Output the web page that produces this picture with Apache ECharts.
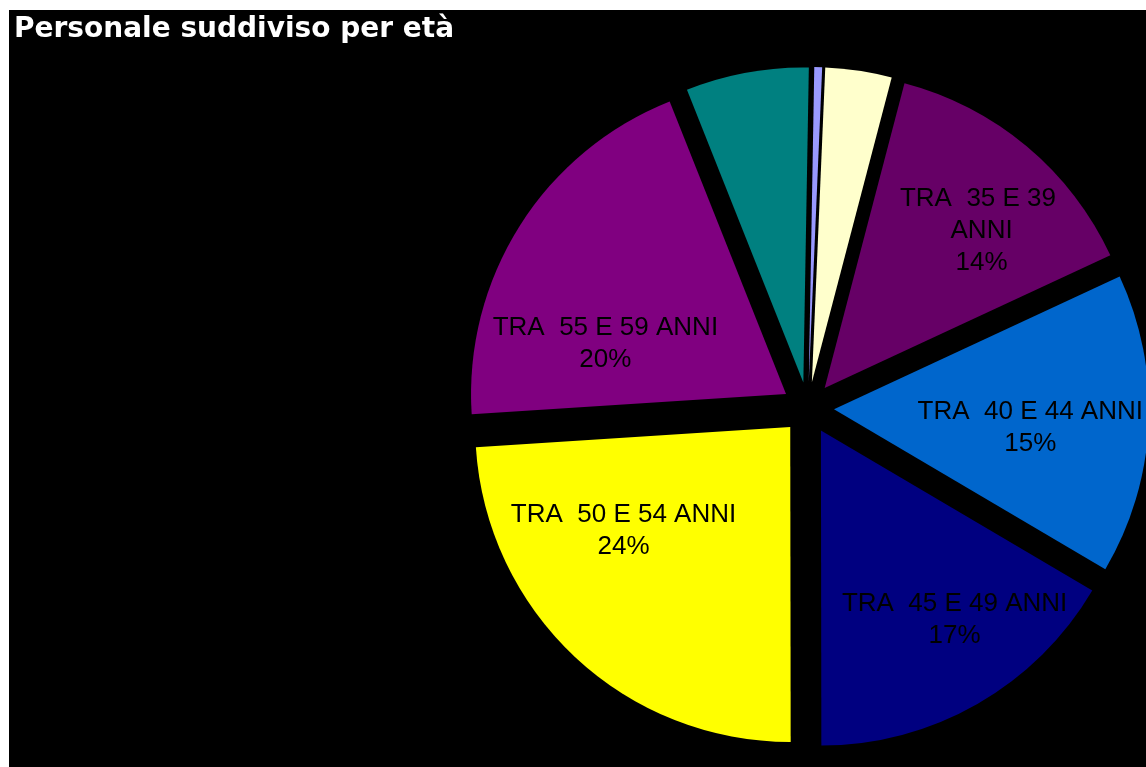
<!DOCTYPE html>
<html>
<head>
<meta charset="utf-8">
<script src="https://cdn.jsdelivr.net/npm/echarts@6/dist/echarts.min.js"></script>
<style>
html,body{margin:0;padding:0;background:#ffffff;width:1146px;height:767px;overflow:hidden;}
#chart{position:absolute;left:9px;top:10px;width:1137px;height:757px;background:#000;}
</style>
</head>
<body>
<div id="chart"></div>
<script>
// ---- data ----
var categories = [
  "FINO A 29 ANNI",
  "TRA  30 E 34 ANNI",
  "TRA  35 E 39 ANNI",
  "TRA  40 E 44 ANNI",
  "TRA  45 E 49 ANNI",
  "TRA  50 E 54 ANNI",
  "TRA  55 E 59 ANNI",
  "60 ANNI E OLTRE"
];
var shares = [0.4, 3.4, 14.0, 15.4, 16.5, 24.0, 20.0, 6.3];
var colors = ["#9999FF", "#FFFFCC", "#660066", "#0066CC", "#000080", "#FFFF00", "#800080", "#008080"];
var showLabel = [false, false, true, true, true, true, true, false];
// label placement tweaks (style only)
var labelShift = [[0,0],[0,0],[54,-34],[36,11],[54,50],[-57,-13],[-45,36],[0,0]];

var chart = echarts.init(document.getElementById('chart'), null, {renderer: 'canvas'});
var data = categories.map(function (c, i) {
  var item = {
    name: c,
    value: shares[i],
    selected: true,
    itemStyle: {color: colors[i]},
    label: {show: showLabel[i]}
  };
  if (i === 2) { item.label.width = 175; item.label.overflow = 'break'; }
  return item;
});

chart.setOption({
  backgroundColor: '#000000',
  animation: false,
  title: {
    text: 'Personale suddiviso per età',
    left: 5,
    top: 6,
    padding: 0,
    textStyle: {color: '#ffffff', fontFamily: 'DejaVu Sans', fontWeight: 'bold', fontSize: 28}
  },
  series: [{
    type: 'pie',
    center: [799, 398],
    radius: [0, 315],
    startAngle: 89,
    clockwise: true,
    selectedMode: 'multiple',
    selectedOffset: 26,
    avoidLabelOverlap: false,
    silent: true,
    itemStyle: {borderWidth: 0},
    label: {
      position: 'inside',
      color: '#000000',
      fontFamily: 'Liberation Sans',
      fontSize: 26,
      lineHeight: 32,
      align: 'center',
      formatter: function (p) { return p.name + '\n' + Math.round(p.percent) + '%'; }
    },
    labelLine: {show: false},
    labelLayout: function (p) {
      var s = labelShift[p.dataIndex];
      return {dx: s[0], dy: s[1]};
    },
    emphasis: {disabled: true},
    data: data
  }]
});
</script>
</body>
</html>
